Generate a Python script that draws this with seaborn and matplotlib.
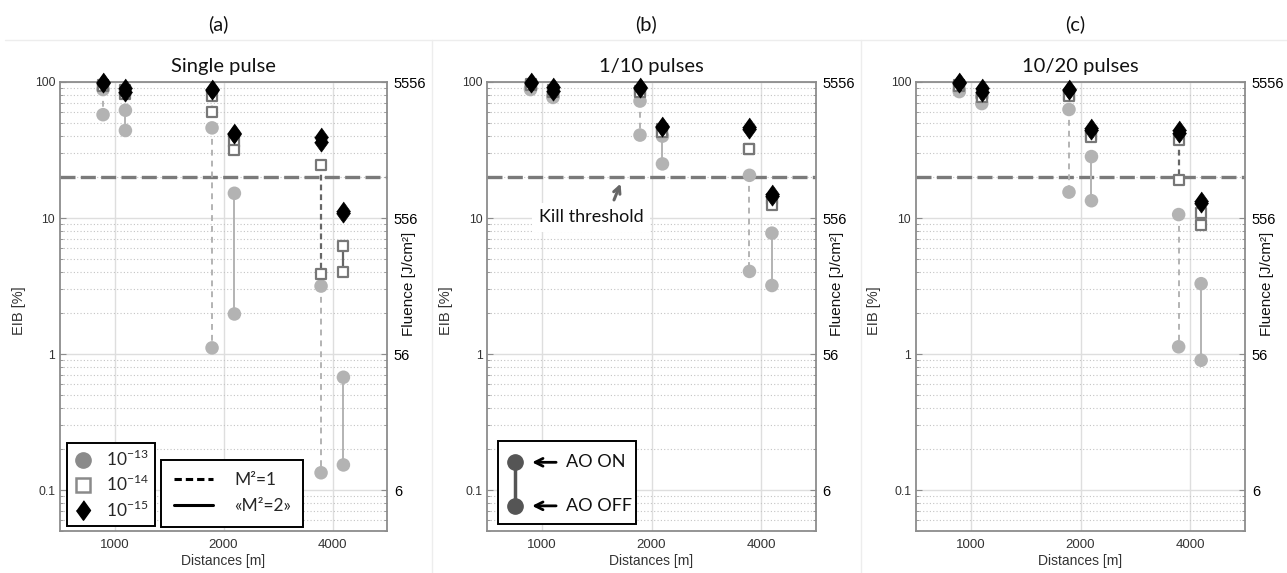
import numpy as np
import pandas as pd
import seaborn as sns
import matplotlib
matplotlib.use("Agg")
import matplotlib.pyplot as plt
from matplotlib.lines import Line2D
from matplotlib.patches import Rectangle
from matplotlib.ticker import NullFormatter, FixedLocator, LogLocator

# ---------------- data ----------------
distances = [1000, 2000, 4000]
beam_quality = ["M1", "M2"]          # M²=1 (dashed), «M²=2» (solid)
energies = ["1e-13", "1e-14", "1e-15"]
panel_keys = ["a", "b", "c"]
panel_headers = ["(a)", "(b)", "(c)"]
panel_titles = ["Single pulse", "1/10 pulses", "10/20 pulses"]
eib_ticks = [0.1, 1, 10, 100]
eib_labels = ["0.1", "1", "10", "100"]
fluence_labels = ["6", "56", "556", "5556"]
kill_threshold = 20

# group order: 1000/M1, 1000/M2, 2000/M1, 2000/M2, 4000/M1, 4000/M2
# (a) single pulse
a_e13_on = [88, 62, 46, 15.2, 3.16, 0.675]
a_e13_off = [57.5, 44, 1.11, 1.97, 0.134, 0.153]
a_e14_on = [95, 88, 78.5, 36.2, 24.7, 6.2]
a_e14_off = [93, 82, 60, 31.5, 3.9, 4.0]
a_e15_on = [100, 91, 89, 42.4, 39.4, 11.2]
a_e15_off = [99, 84.5, 88, 41.5, 36.2, 10.9]
# (b) 1/10 pulses
b_e13_on = [90, 79, 72.4, 40, 20.6, 7.74]
b_e13_off = [88, 77, 40.7, 25, 4.05, 3.19]
b_e14_on = [96, 88, 86, 45, 32.3, 13.8]
b_e14_off = [95, 85, 84, 43, 31.9, 12.5]
b_e15_on = [100, 92, 92, 47.4, 46.6, 14.9]
b_e15_off = [99, 86, 91, 46.5, 45.5, 14.5]
# (c) 10/20 pulses
c_e13_on = [87, 78, 62.8, 28.3, 10.6, 3.29]
c_e13_off = [85, 69.4, 15.5, 13.4, 1.13, 0.90]
c_e14_on = [95, 82, 80, 41, 37.5, 10.9]
c_e14_off = [93, 78, 78.5, 39.6, 19.1, 8.9]
c_e15_on = [100, 91, 89, 45.6, 44.3, 13.4]
c_e15_off = [99, 84.5, 88, 44.5, 42, 13.0]

series = {
    "a": {"1e-13": (a_e13_on, a_e13_off), "1e-14": (a_e14_on, a_e14_off), "1e-15": (a_e15_on, a_e15_off)},
    "b": {"1e-13": (b_e13_on, b_e13_off), "1e-14": (b_e14_on, b_e14_off), "1e-15": (b_e15_on, b_e15_off)},
    "c": {"1e-13": (c_e13_on, c_e13_off), "1e-14": (c_e14_on, c_e14_off), "1e-15": (c_e15_on, c_e15_off)},
}

offsets = {"M1": -0.105, "M2": 0.1}
rows = []
for key in panel_keys:
    for en in energies:
        on, off = series[key][en]
        for g in range(6):
            d = distances[g // 2]
            m = beam_quality[g % 2]
            pos = distances.index(d) + 1 + offsets[m]
            for state, vals in (("ON", on), ("OFF", off)):
                rows.append(dict(panel=key, energy=en, group=g, distance=d,
                                 m2=m, state=state, pos=pos, value=vals[g]))
df = pd.DataFrame(rows)

# ---------------- style ----------------
sns.set_style("white")
plt.rcParams["font.family"] = ["Liberation Sans", "DejaVu Sans"]

fig = plt.figure(figsize=(12.87, 5.73), dpi=100)
W, H = 1287, 573
boxes = [(60, 387), (487.3, 815.7), (916, 1245)]
top_px, bot_px = 82, 531

diamond = [(0, 1), (0.72, 0), (0, -1), (-0.72, 0)]

styles = {
    "1e-13": dict(marker="o", s=95, color="#b3b3b3", edgecolor="none", linewidth=0, zorder=3),
    "1e-14": dict(marker="s", s=55, facecolor="white", edgecolor="#777777", linewidth=1.6, zorder=4),
    "1e-15": dict(marker=diamond, s=190, color="black", edgecolor="black", linewidth=0.5, zorder=5),
}
line_styles = {
    "1e-13": dict(color="#b3b3b3", lw=1.4, zorder=2.6, dashes={"M1": (3, 2.6), "M2": ""}),
    "1e-14": dict(color="#666666", lw=1.6, zorder=3.5, dashes={"M1": (2.6, 1.8), "M2": ""}),
    "1e-15": dict(color="black", lw=1.6, zorder=4.5, dashes={"M1": (2.6, 1.8), "M2": ""}),
}

axes = []
for i, key in enumerate(panel_keys):
    l, r = boxes[i]
    ax = fig.add_axes([l / W, (H - bot_px) / H, (r - l) / W, (bot_px - top_px) / H])
    axes.append(ax)
    ax.set_yscale("log")
    ax.set_xlim(0.5, 3.5)
    ax.set_ylim(0.05, 100)
    ax.set_xticks([1, 2, 3])
    ax.set_xticklabels([str(d) for d in distances])
    ax.yaxis.set_major_locator(FixedLocator(eib_ticks))
    ax.set_yticklabels(eib_labels)
    ax.yaxis.set_minor_locator(LogLocator(base=10, subs=np.arange(2, 10)))
    ax.yaxis.set_minor_formatter(NullFormatter())
    ax.grid(True, which="major", color="#dedede", lw=1.0, zorder=0)
    ax.grid(True, which="minor", axis="y", color="#c4c4c4", lw=0.8, ls=(0, (1, 2)), zorder=0)
    ax.set_axisbelow(True)
    for sp in ax.spines.values():
        sp.set_color("#8c8c8c")
        sp.set_linewidth(1.3)
    ax.tick_params(which="both", direction="in", color="#8c8c8c")
    ax.tick_params(which="major", length=4)
    ax.tick_params(which="minor", length=2.5)
    ax.tick_params(axis="x", labelsize=9.5, labelcolor="#333333", pad=6)
    ax.tick_params(axis="y", labelsize=8.8, labelcolor="#333333")

    ax.axhline(kill_threshold, color="#7a7a7a", lw=2.4, ls=(0, (4.5, 1.6)), zorder=2.2)

    sub = df[df.panel == key]
    for en in energies:
        s2 = sub[sub.energy == en]
        ls_ = line_styles[en]
        sns.lineplot(data=s2, x="pos", y="value", units="group", estimator=None,
                     style="m2", dashes=ls_["dashes"], color=ls_["color"], lw=ls_["lw"],
                     sort=False, legend=False, ax=ax, zorder=ls_["zorder"])
    for en in energies:
        s2 = sub[sub.energy == en]
        sns.scatterplot(data=s2, x="pos", y="value", legend=False, ax=ax,
                        clip_on=False, **styles[en])

    ax.set_xlabel("Distances [m]", fontsize=10, color="#333333", labelpad=2)
    ax.set_ylabel("EIB [%]", fontsize=10.5, color="#333333")
    ax.yaxis.set_label_coords(-0.105, 0.49)

    ax2 = ax.twinx()
    ax2.set_yscale("log")
    ax2.set_ylim(0.05, 100)
    ax2.yaxis.set_major_locator(FixedLocator(eib_ticks))
    ax2.set_yticklabels(fluence_labels)
    ax2.yaxis.set_minor_locator(LogLocator(base=10, subs=np.arange(2, 10)))
    ax2.yaxis.set_minor_formatter(NullFormatter())
    ax2.tick_params(which="both", direction="in", color="#8c8c8c")
    ax2.tick_params(which="major", length=4, labelsize=10.5, labelcolor="black", pad=5)
    ax2.tick_params(which="minor", length=2.5)
    for sp in ax2.spines.values():
        sp.set_visible(False)
    ax2.set_ylabel("Fluence [J/cm²]", fontsize=11, color="#111111")
    ax2.yaxis.set_label_coords(1.045, 0.55)

    ax.set_title(panel_titles[i], fontfamily="Lato", fontsize=14.5, pad=7, color="#111111")
    fig.text(((l + r) / 2 - 5) / W, (H - 24) / H, panel_headers[i], fontfamily="Lato",
             fontsize=14.5, ha="center", va="center", color="#111111")

# faint panel separators
fig.add_artist(Line2D([5 / W, 1], [(H - 40) / H] * 2, color="#ededed", lw=1))
for xs in (432, 861):
    fig.add_artist(Line2D([xs / W] * 2, [0, (H - 40) / H], color="#ededed", lw=1))

# ---------------- legends (a) ----------------
ax = axes[0]
leg_font = {"family": "Lato", "size": 12.5}
h1 = [Line2D([], [], marker="o", ls="none", color="#8a8a8a", markersize=11),
      Line2D([], [], marker="s", ls="none", mfc="white", mec="#8a8a8a", mew=1.8, markersize=10),
      Line2D([], [], marker=diamond, ls="none", color="black", markersize=14)]
lab1 = ["10$^{\\mathregular{-13}}$", "10$^{\\mathregular{-14}}$", "10$^{\\mathregular{-15}}$"]
leg1 = ax.legend(h1, lab1, loc="lower left", bbox_to_anchor=(0.02, 0.012), frameon=True,
                 fancybox=False, edgecolor="black", framealpha=1, prop=leg_font,
                 handletextpad=0.7, borderpad=0.35, labelspacing=0.3, handlelength=1.2,
                 borderaxespad=0)
leg1.get_frame().set_linewidth(1.4)
leg1.set_zorder(10)
ax.add_artist(leg1)
h2 = [Line2D([], [], color="black", ls=(0, (2.4, 1.3)), lw=2.2),
      Line2D([], [], color="black", lw=2.2)]
leg2 = ax.legend(h2, ["M²=1", "«M²=2»"], loc="lower left", bbox_to_anchor=(0.31, 0.01),
                 frameon=True, fancybox=False, edgecolor="black", framealpha=1, prop=leg_font,
                 handletextpad=1.2, borderpad=0.7, labelspacing=0.6, handlelength=2.3,
                 borderaxespad=0)
leg2.get_frame().set_linewidth(1.4)
leg2.set_zorder(10)

# ---------------- annotations (b) ----------------
ax = axes[1]
ax.annotate("", xy=(1.727, 18.7), xytext=(1.648, 13.0),
            arrowprops=dict(arrowstyle="->", color="#666666", lw=2.2, mutation_scale=12),
            zorder=6)
ax.text(0.97, 10.1, "Kill threshold", fontfamily="Lato", fontsize=13, ha="left", va="center",
        color="#111111", zorder=6,
        bbox=dict(boxstyle="square,pad=0.35", fc="white", ec="none"))

ax.add_patch(Rectangle((0.032, 0.015), 0.42, 0.185, transform=ax.transAxes,
                       fc="white", ec="black", lw=1.4, zorder=8))
ax.add_line(Line2D([0.084, 0.084], [0.056, 0.153], transform=ax.transAxes, color="#555555",
                   lw=2.5, marker="o", markersize=11, zorder=9))
for yy, txt in ((0.153, "AO ON"), (0.056, "AO OFF")):
    ax.annotate("", xy=(0.128, yy), xytext=(0.218, yy), xycoords="axes fraction",
                arrowprops=dict(arrowstyle="->", color="black", lw=2, mutation_scale=14),
                zorder=9)
    ax.text(0.24, yy, txt, transform=ax.transAxes, fontfamily="Lato", fontsize=13,
            ha="left", va="center", color="#111111", zorder=9)

fig.savefig("out.png", dpi=100, facecolor="white")
